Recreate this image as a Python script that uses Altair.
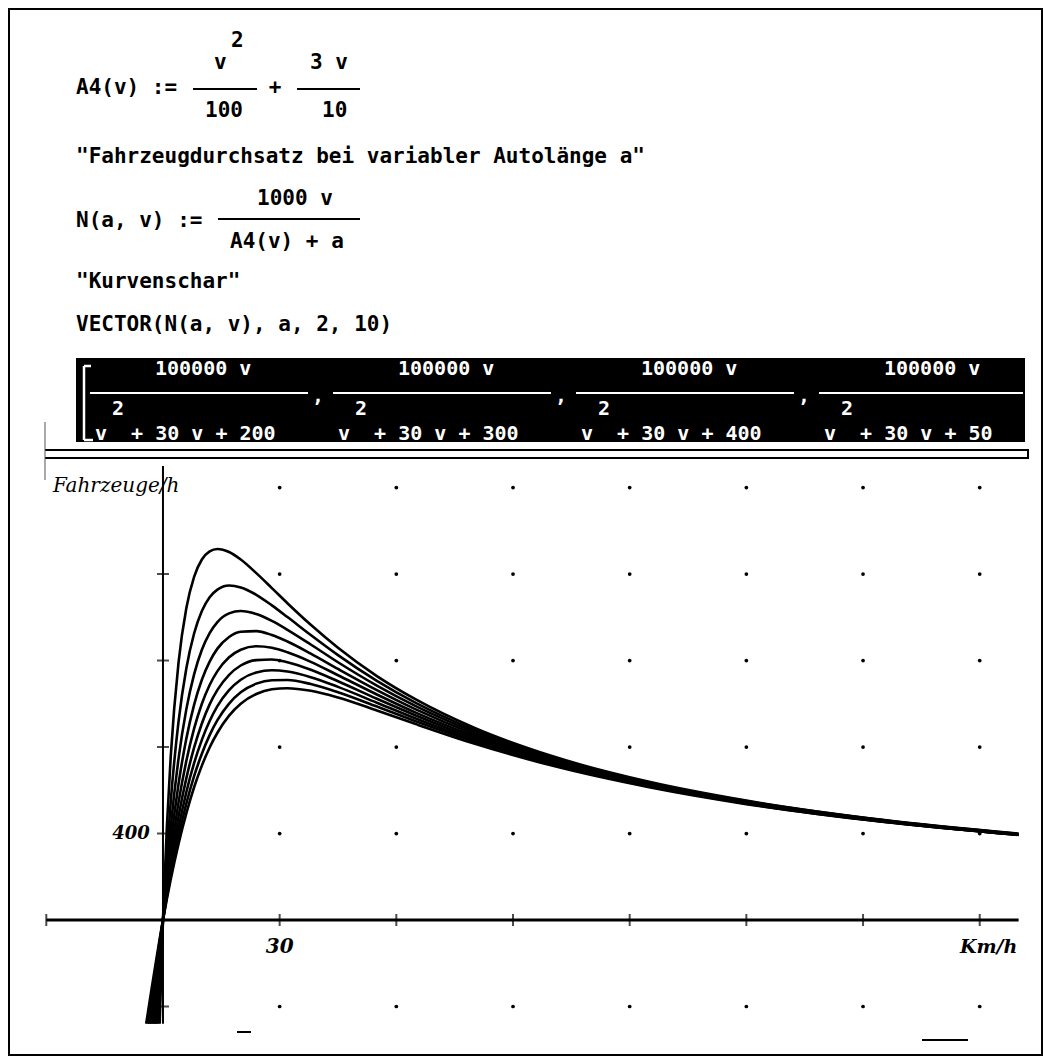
import altair as alt
import pandas as pd

# ---------------- data ----------------
CAR_LENGTHS = [2, 3, 4, 5, 6, 7, 8, 9, 10]          # a (m)
SPEEDS = [0, 1, 2, 4, 6, 8, 10, 12, 14, 17, 20, 24, 28, 32, 38, 45, 55, 65, 80, 100, 125, 150, 185, 220]
FLOW_A2 = [0, 431, 758, 1190, 1442, 1587, 1667, 1705, 1716, 1702, 1667, 1604, 1535, 1465, 1365, 1259, 1128, 1020, 889, 758, 639, 552, 463, 399]
FLOW_A3 = [0, 302, 549, 917, 1163, 1325, 1429, 1493, 1528, 1547, 1538, 1504, 1455, 1401, 1318, 1225, 1106, 1004, 879, 752, 635, 550, 462, 398]
FLOW_A4 = [0, 233, 431, 746, 974, 1136, 1250, 1327, 1378, 1418, 1429, 1415, 1383, 1342, 1274, 1192, 1084, 989, 870, 746, 632, 547, 461, 397]
FLOW_A5 = [0, 188, 355, 629, 838, 995, 1111, 1195, 1255, 1309, 1333, 1336, 1318, 1288, 1232, 1161, 1063, 974, 860, 741, 629, 546, 459, 396]
FLOW_A6 = [0, 158, 301, 544, 735, 885, 1000, 1087, 1151, 1215, 1250, 1266, 1259, 1238, 1194, 1132, 1043, 959, 851, 735, 626, 544, 458, 396]
FLOW_A7 = [0, 137, 262, 479, 655, 797, 909, 997, 1064, 1134, 1177, 1202, 1205, 1192, 1157, 1104, 1023, 946, 842, 730, 623, 542, 457, 395]
FLOW_A8 = [0, 120, 231, 427, 591, 725, 833, 920, 989, 1063, 1111, 1145, 1155, 1149, 1123, 1078, 1005, 932, 833, 725, 620, 540, 456, 394]
FLOW_A9 = [0, 107, 207, 386, 538, 665, 769, 855, 924, 1001, 1053, 1093, 1109, 1110, 1091, 1053, 987, 919, 825, 719, 617, 538, 455, 394]
FLOW_A10 = [0, 97, 188, 352, 493, 614, 714, 798, 866, 945, 1000, 1045, 1067, 1072, 1060, 1029, 969, 906, 816, 714, 614, 536, 454, 393]
FLOWS = [FLOW_A2, FLOW_A3, FLOW_A4, FLOW_A5, FLOW_A6, FLOW_A7, FLOW_A8, FLOW_A9, FLOW_A10]
# where each curve leaves the window at the bottom (negative speeds)
EXIT_SPEEDS = [-0.85, -1.28, -1.71, -2.14, -2.57, -3.0, -3.43, -3.87, -4.32]
EXIT_FLOW = -480

GRID_SPEEDS = [30, 60, 90, 120, 150, 180, 210]
GRID_FLOWS = [-400, 400, 800, 1200, 1600, 2000]
X_TICKS = [-30, 30, 60, 90, 120, 150, 180, 210]
Y_TICKS = [-400, 400, 800, 1200, 1600]
X_DOMAIN = [-30, 220]
Y_DOMAIN = [-480, 2100]

DENOM_CONSTS = ["200", "300", "400", "50"]

# ---------------- tables ----------------
rows = []
for a, ys, ev in zip(CAR_LENGTHS, FLOWS, EXIT_SPEEDS):
    rows.append({"a": a, "v": ev, "n": EXIT_FLOW})
    for v, n in zip(SPEEDS, ys):
        rows.append({"a": a, "v": v, "n": n})
curves = pd.DataFrame(rows)
grid = pd.DataFrame([{"v": v, "n": n} for v in GRID_SPEEDS for n in GRID_FLOWS])
xticks = pd.DataFrame({"v": X_TICKS, "n": [0] * len(X_TICKS)})
yticks = pd.DataFrame({"v": [0] * len(Y_TICKS), "n": Y_TICKS})
xaxis = pd.DataFrame({"v": [X_DOMAIN[0]], "v2": [X_DOMAIN[1]], "n": [0]})
yaxis = pd.DataFrame({"v": [0], "n": [Y_DOMAIN[0]], "n2": [Y_DOMAIN[1]]})
one = pd.DataFrame({"k": [0]})

XS = alt.Scale(domain=X_DOMAIN, range=[46.3, 1018.6])
YS = alt.Scale(domain=Y_DOMAIN, range=[1023.8, 465.9])

MONO = "DejaVu Sans Mono"
HAND = "DejaVu Serif"
NB = "\u00a0"


def label(s, x, y, size=21, color="black", font=MONO, weight="bold", style="normal", align="left"):
    return alt.Chart(one).mark_text(
        text=s, font=font, fontSize=size, fontWeight=weight, fontStyle=style,
        color=color, align=align, baseline="middle"
    ).encode(x=alt.value(x), y=alt.value(y))


def hline(x1, x2, y, color="black", w=2):
    return alt.Chart(one).mark_rule(color=color, strokeWidth=w).encode(
        x=alt.value(x1), x2=alt.value(x2), y=alt.value(y))


def vline(x, y1, y2, color="black", w=2):
    return alt.Chart(one).mark_rule(color=color, strokeWidth=w).encode(
        x=alt.value(x), y=alt.value(y1), y2=alt.value(y2))


layers = []

# ---------------- header (Derive algebra window) ----------------
layers += [
    label("A4(v) :=", 76, 88),
    label("2", 231, 41),
    label("v", 214, 63),
    hline(193, 257, 89),
    label("100", 205, 111),
    label("+", 275, 88, align="center"),
    label("3 v", 310, 63),
    hline(297, 360, 89),
    label("10", 322, 111),
    label('"Fahrzeugdurchsatz bei variabler Autolänge a"', 76, 157),
    label("N(a, v) :=", 76, 221),
    label("1000 v", 257, 199),
    hline(218, 360, 219),
    label("A4(v) + a", 230, 242),
    label('"Kurvenschar"', 76, 282),
    label("VECTOR(N(a, v), a, 2, 10)", 76, 325),
]

# highlighted result band
layers.append(alt.Chart(one).mark_rect(color="black").encode(
    x=alt.value(76), x2=alt.value(1025), y=alt.value(358), y2=alt.value(442)))
layers += [
    vline(84, 366, 440, color="white", w=2.5),
    hline(84, 91, 366, color="white", w=2.5),
    hline(84, 93, 440, color="white", w=2.5),
]
for k, c in enumerate(DENOM_CONSTS):
    dx = 243 * k
    layers += [
        label("100000 v", 155 + dx, 369, size=20, color="white"),
        hline(90 + dx, min(308 + dx, 1023), 393, color="white", w=2),
        label("2", 112 + dx, 409, size=20, color="white"),
        label("v" + NB + " + 30 v + " + c, 95 + dx, 434, size=20, color="white"),
    ]
    if k < 3:
        layers.append(label(",", 312 + dx, 396, size=20, color="white"))

# double separator
layers += [
    hline(45, 1028, 450, w=2),
    hline(45, 1028, 458, w=2),
    vline(1028, 449, 459, w=2),
    vline(45, 422, 480, color="#555", w=1),
]

# ---------------- plot window ----------------
layers.append(alt.Chart(grid).mark_circle(color="black", size=14, opacity=1).encode(
    x=alt.X("v:Q", scale=XS, axis=None), y=alt.Y("n:Q", scale=YS, axis=None)))
layers.append(alt.Chart(xaxis).mark_rule(color="black", strokeWidth=3).encode(
    x=alt.X("v:Q", scale=XS, axis=None), x2="v2:Q", y=alt.Y("n:Q", scale=YS, axis=None)))
layers.append(alt.Chart(yaxis).mark_rule(color="black", strokeWidth=2).encode(
    x=alt.X("v:Q", scale=XS, axis=None), y=alt.Y("n:Q", scale=YS, axis=None), y2="n2:Q"))
layers.append(alt.Chart(xticks).mark_tick(color="black", orient="vertical", size=12, thickness=2).encode(
    x=alt.X("v:Q", scale=XS, axis=None), y=alt.Y("n:Q", scale=YS, axis=None)))
layers.append(alt.Chart(yticks).mark_tick(color="black", orient="horizontal", size=12, thickness=2).encode(
    x=alt.X("v:Q", scale=XS, axis=None), y=alt.Y("n:Q", scale=YS, axis=None)))
layers.append(alt.Chart(curves).mark_line(color="black", strokeWidth=2.6, interpolate="monotone",
                                          strokeJoin="round").encode(
    x=alt.X("v:Q", scale=XS, axis=None), y=alt.Y("n:Q", scale=YS, axis=None), detail="a:N"))

# hand-written annotations
layers += [
    label("Fahrzeuge/h", 53, 486, size=20, font=HAND, weight="normal", style="italic"),
    alt.Chart(one).mark_text(text="400", font=HAND, fontSize=18, fontStyle="italic", fontWeight="bold",
                             align="center", baseline="middle").encode(
        x=alt.value(131), y=alt.Y(datum=400, scale=YS, axis=None)),
    alt.Chart(one).mark_text(text="30", font=HAND, fontSize=20, fontStyle="italic", fontWeight="bold",
                             align="center", baseline="middle").encode(
        x=alt.X(datum=30, scale=XS, axis=None), y=alt.value(947)),
    label("Km/h", 960, 947, size=19, font=HAND, weight="bold", style="italic"),
    hline(237, 251, 1032, w=2),
    hline(922, 968, 1040, w=2),
]

# outer frame
layers.append(alt.Chart(one).mark_rect(fillOpacity=0, stroke="black", strokeWidth=2).encode(
    x=alt.value(9), x2=alt.value(1042), y=alt.value(9), y2=alt.value(1055)))

chart = alt.layer(*layers).properties(
    width=1043, height=1056, padding=0,
    autosize=alt.AutoSizeParams(type="none"),
    background="white",
).configure_view(strokeWidth=0)

chart.save("out.html", embed_options={"renderer": "svg", "actions": False})
